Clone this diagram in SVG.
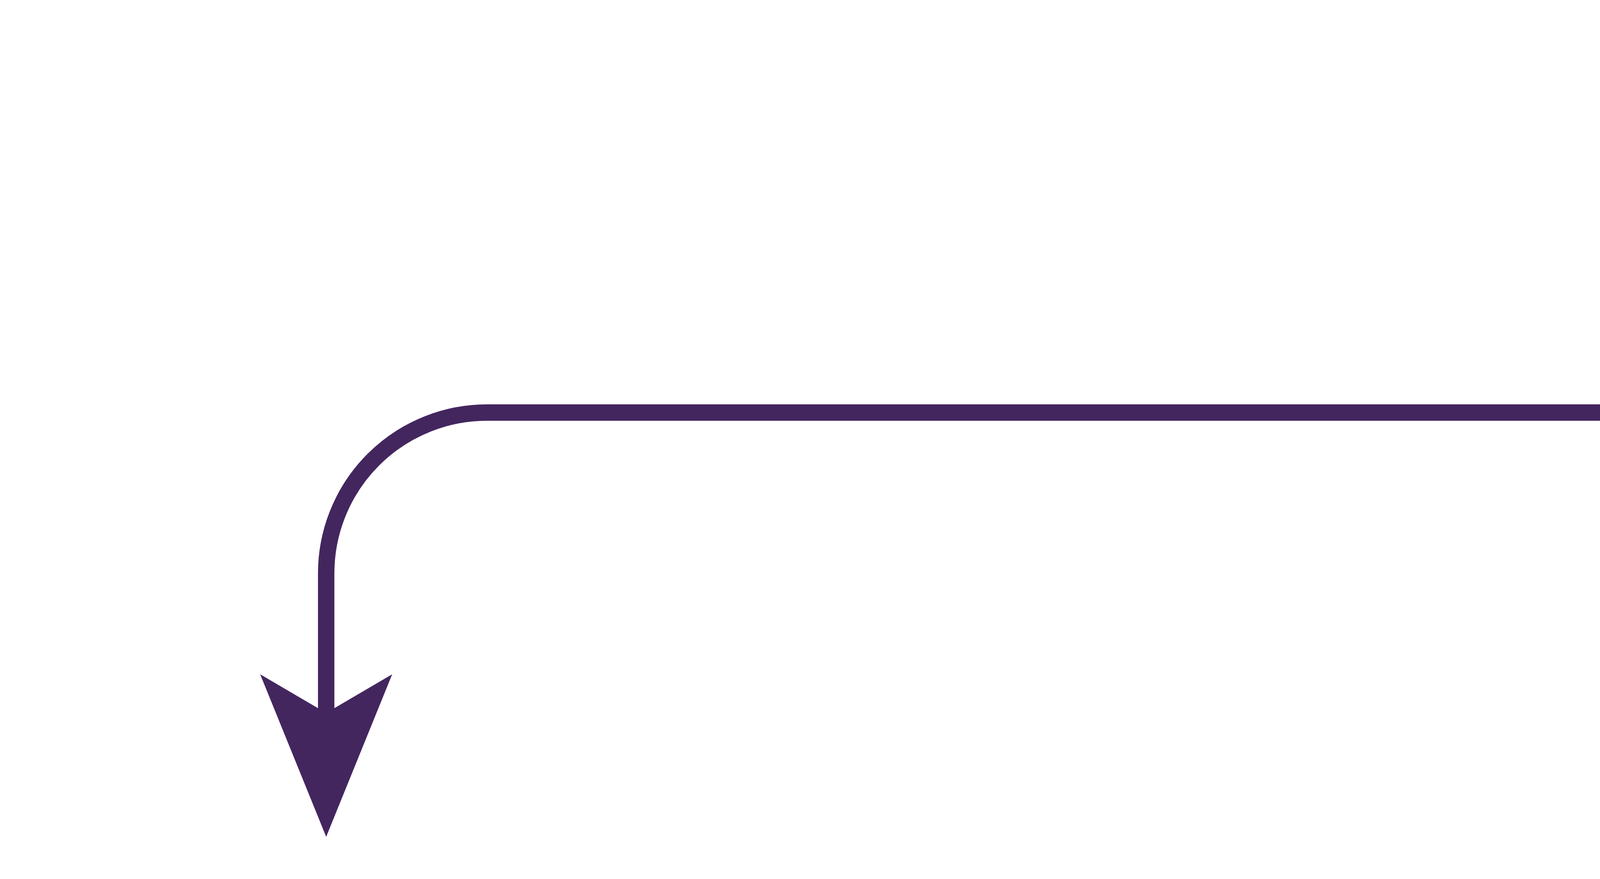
<svg xmlns="http://www.w3.org/2000/svg" width="8000" height="2250" viewBox="0 0 8000 2250">
  <style>
    .wire { fill: none; stroke: #44265f; stroke-width: 42; }
    .ink { fill: #44265f; stroke: none; }
  </style>
  <rect x="0" y="0" width="8000" height="2250" fill="#ffffff"/>
  <g id="start-node">
    <circle class="ink" cx="7166" cy="264" r="157"/>
  </g>
  <g id="connectors">
    <path class="wire" d="M 7166 264 L 7166 644 A 412 412 0 0 1 6754 1056 L 1247 1056 A 412 412 0 0 0 835 1468 L 835 1830"/>
    <polygon class="ink" points="835,2142 1004,1726 835,1825 666,1726"/>
  </g>
</svg>
